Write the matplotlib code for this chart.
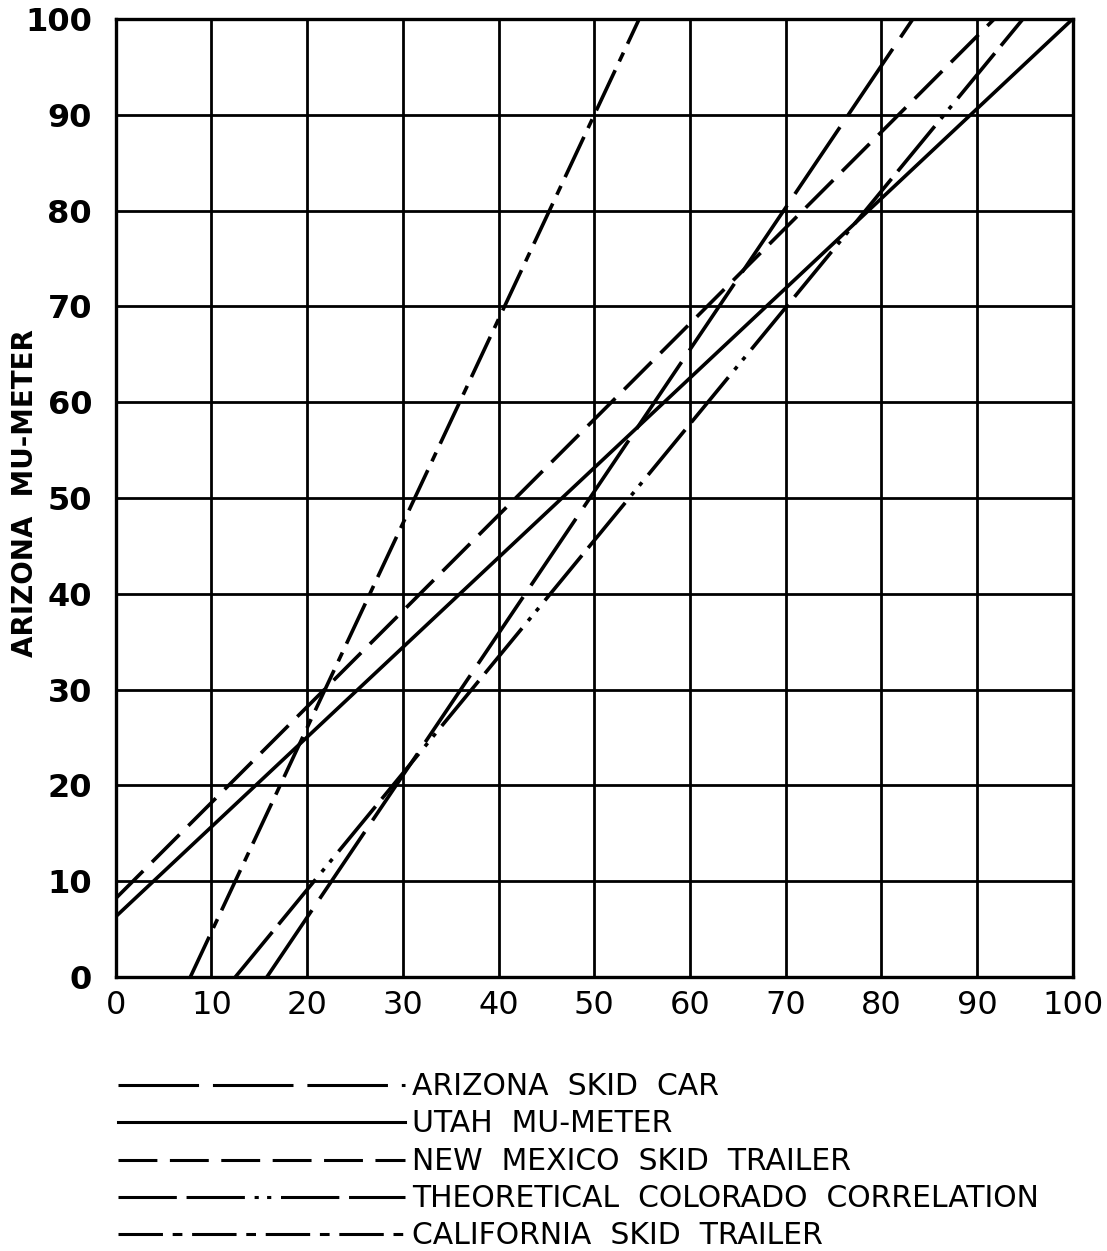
import numpy as np
import matplotlib.pyplot as plt

plt.rcParams['font.family'] = ['DejaVu Sans']
plt.rcParams['lines.scale_dashes'] = False

# correlation lines, each given by its two end points (x = other device, y = Arizona Mu-Meter)
names = ["ARIZONA  SKID  CAR", "UTAH  MU-METER", "NEW  MEXICO  SKID  TRAILER",
         "THEORETICAL  COLORADO  CORRELATION", "CALIFORNIA  SKID  TRAILER"]
arizona_x = [15.8, 83.3]
arizona_y = [0, 100]
utah_x = [0, 100]
utah_y = [6.3, 100]
nmex_x = [0, 91.8]
nmex_y = [8.2, 100]
colorado_x = [12.5, 94.8]
colorado_y = [0, 100]
calif_x = [7.8, 54.7]
calif_y = [0, 100]

ticks = np.arange(0, 101, 10)

# line patterns (points, not scaled by width)
styles = [
    dict(dashes=(58, 10)),
    dict(linestyle='-'),
    dict(dashes=(28, 9)),
    dict(dashes=(42, 7, 42, 7, 3, 6, 3, 7)),
    dict(dashes=(32, 7, 7, 7)),
]
series = [(arizona_x, arizona_y), (utah_x, utah_y), (nmex_x, nmex_y),
          (colorado_x, colorado_y), (calif_x, calif_y)]

W, H = 1107, 1251
fig = plt.figure(figsize=(W / 100, H / 100), dpi=100)
ax = fig.add_axes([115.7 / W, 1 - 977 / H, 957 / W, 958 / H])

for (xs, ys), st in zip(series, styles):
    ax.plot(xs, ys, color='black', linewidth=2.6, solid_capstyle='butt',
            dash_capstyle='butt', **st)

ax.set_xlim(0, 100)
ax.set_ylim(0, 100)
ax.set_xticks(ticks)
ax.set_yticks(ticks)
ax.grid(True, color='black', linewidth=2.0)
ax.set_axisbelow(True)
ax.tick_params(axis='x', length=0, labelsize=23, pad=9)
ax.tick_params(axis='y', length=0, labelsize=23, pad=17)
for lab in ax.get_yticklabels():
    lab.set_fontweight('bold')
for s in ax.spines.values():
    s.set_linewidth(2.4)

fig.text(25 / W, 1 - 493 / H, "ARIZONA  MU-METER", rotation=90,
         ha='center', va='center', fontsize=20, fontweight='bold')

# key below the chart
key = fig.add_axes([0, 0, 1, 1])
key.set_xlim(0, W)
key.set_ylim(H, 0)
key.axis('off')
for i, (name, st) in enumerate(zip(names, styles)):
    y = 1085 + i * 37.3
    key.plot([118, 405], [y, y], color='black', linewidth=2.2,
             dash_capstyle='butt', **st)
    key.text(412, y + 10, name, ha='left', va='baseline', fontsize=21.5)

fig.savefig('out.png', dpi=100, facecolor='white')
